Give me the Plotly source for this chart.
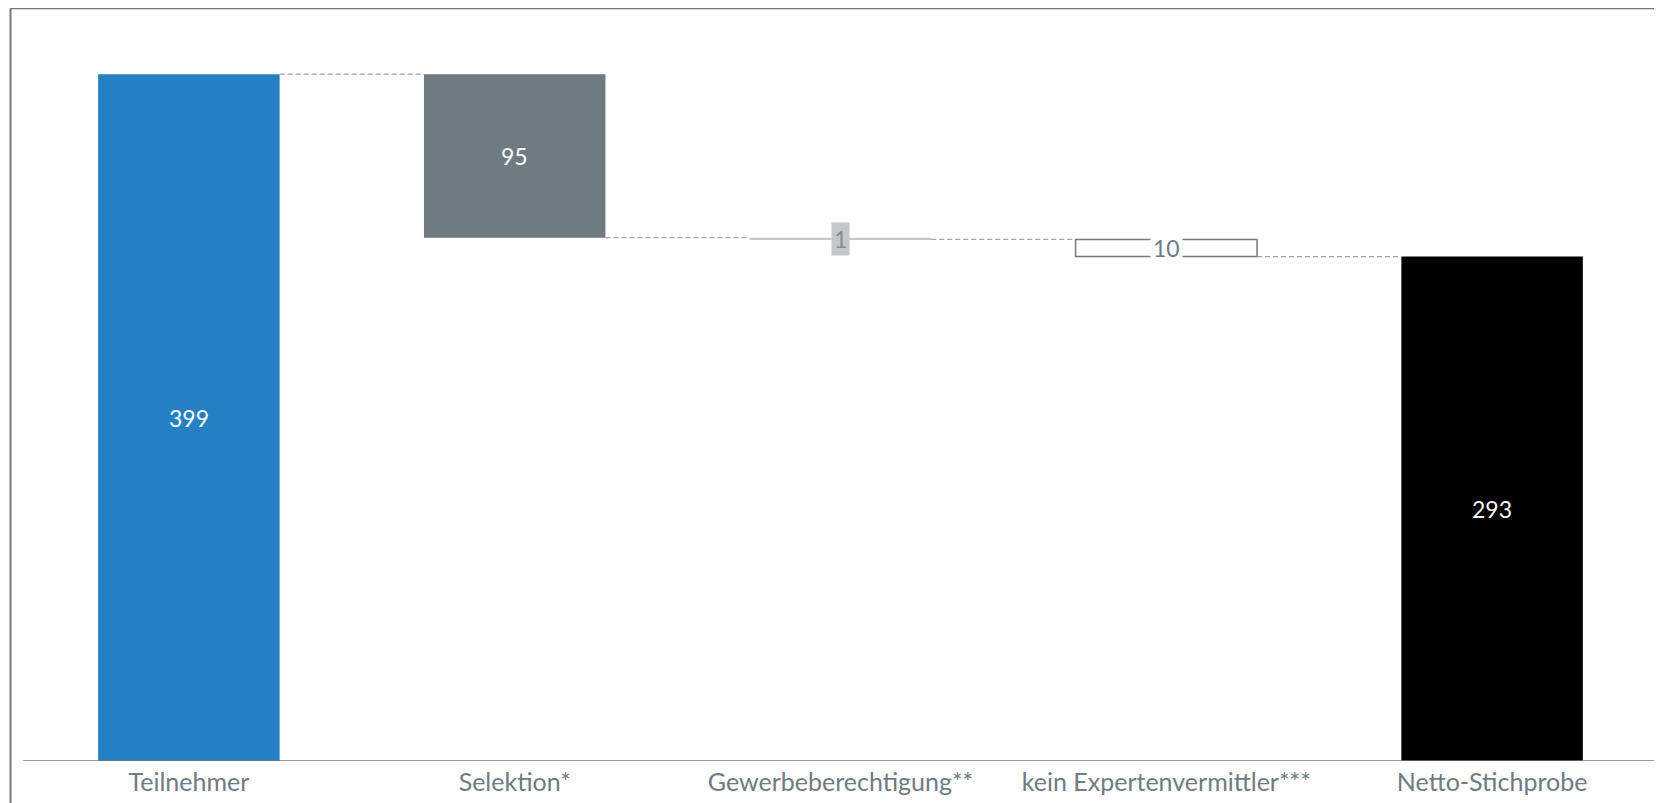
import plotly.graph_objects as go

categories = ["Teilnehmer", "Selektion*", "Gewerbeberechtigung**", "kein Expertenvermittler***", "Netto-Stichprobe"]
values = [399, -95, -1, -10, 293]
measures = ["absolute", "relative", "relative", "relative", "total"]
labels = ["399", "95", "1", "10", "293"]

fill_colors = ["#2580c3", "#6f7b83", "#c3c8c8", "#ffffff", "#000000"]
line_colors = ["#2580c3", "#6f7b83", "#c3c8c8", "#6f7b83", "#000000"]
line_widths = [0, 0, 0, 1.5, 0]
label_colors = ["#ffffff", "#ffffff", "#868e92", "#6f7b83", "#ffffff"]
label_bg = [None, None, "#c3c8c8", "#ffffff", None]

# compute bases and heights from data
bases, heights, levels = [], [], []
running = 0
for v, m in zip(values, measures):
    if m == "absolute" or m == "total":
        bases.append(0)
        heights.append(v)
        running = v
    else:
        new = running + v
        bases.append(min(running, new))
        heights.append(abs(v))
        running = new
    levels.append(running)

BAR_W = 0.557
AX = "#6f7b83"
FONT = "Lato"

fig = go.Figure()
fig.add_trace(go.Bar(
    x=list(range(len(categories))), y=heights, base=bases, width=BAR_W,
    marker=dict(color=fill_colors, line=dict(color=line_colors, width=line_widths)),
    hoverinfo="skip", showlegend=False,
))

shapes = []
# connectors
for i in range(len(categories) - 1):
    shapes.append(dict(type="line", xref="x", yref="y",
                       x0=i + BAR_W / 2, x1=i + 1 - BAR_W / 2,
                       y0=levels[i], y1=levels[i],
                       line=dict(color="#9ba4a9", width=1.2, dash="5px,3px")))
# frame
shapes.append(dict(type="line", xref="paper", yref="paper", x0=-0.0095, x1=-0.0095, y0=-0.2, y1=1.041,
                   line=dict(color=AX, width=2)))
shapes.append(dict(type="line", xref="paper", yref="paper", x0=-0.0095, x1=1.1, y0=1.041, y1=1.041,
                   line=dict(color=AX, width=2)))
# baseline
shapes.append(dict(type="line", xref="paper", yref="y", x0=-0.0017, x1=1.0, y0=0, y1=0,
                   line=dict(color=AX, width=1.5)))

annotations = []
for i in range(len(categories)):
    a = dict(x=i, y=bases[i] + heights[i] / 2, xref="x", yref="y", text=labels[i], showarrow=False,
             font=dict(family=FONT, size=23, color=label_colors[i]))
    if label_bg[i]:
        a["bgcolor"] = label_bg[i]
        a["borderpad"] = 2
    annotations.append(a)

fig.update_layout(
    width=1662, height=803,
    margin=dict(l=18, r=15, t=30, b=50),
    paper_bgcolor="white", plot_bgcolor="white",
    shapes=shapes, annotations=annotations,
    xaxis=dict(tickmode="array", tickvals=list(range(len(categories))), ticktext=categories,
               range=[-0.5, len(categories) - 0.5], showgrid=False, zeroline=False, showline=False,
               ticks="", ticklabelstandoff=4, tickfont=dict(family=FONT, size=25, color=AX)),
    yaxis=dict(range=[0, 420], visible=False, showgrid=False, zeroline=False),
    font=dict(family=FONT),
)

fig.write_html("out.html")
